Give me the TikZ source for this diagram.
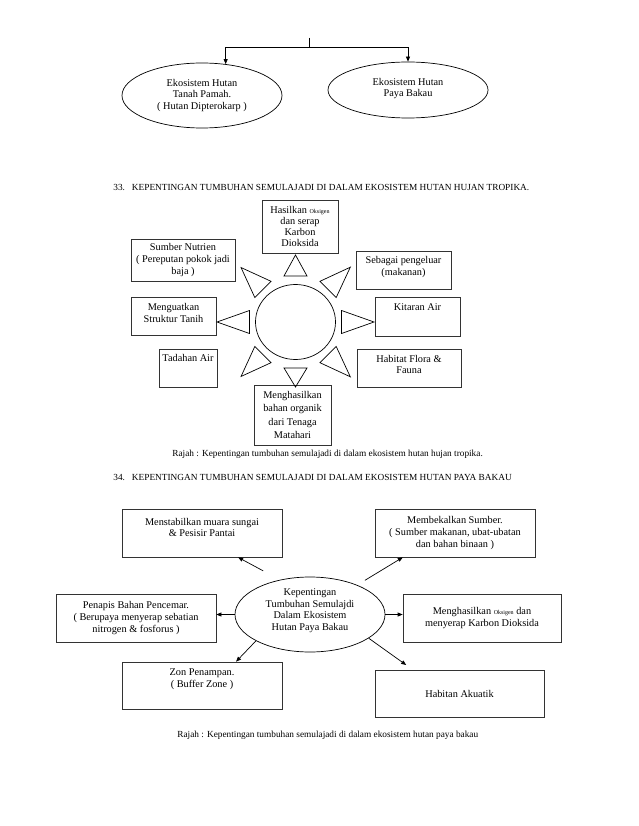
\documentclass[tikz,border=0pt]{standalone}
\usepackage{fontspec}
\setmainfont{Liberation Serif}
\usetikzlibrary{shapes.geometric,arrows.meta}

\newcommand{\kecil}[1]{{\fontsize{6}{7}\selectfont #1}}
\newcommand{\ruang}[1]{\rule[-#1]{0pt}{#1}}

\begin{document}
\begin{tikzpicture}[x=1pt,y=1pt,
            line width=0.7pt,
            every node/.style={font=\fontsize{10.3}{11.7}\selectfont, align=center, inner sep=2pt},
            kotak/.style n args={2}{draw=black!80, rectangle, minimum width=#1, minimum height=#2},
            bulat/.style={draw, ellipse, inner sep=0pt},
            tajuk/.style={anchor=west, inner sep=0pt, font=\fontsize{9.3}{11}\selectfont},
            panah/.style={-{Triangle[length=5pt,width=4pt]}},
            ]
            \useasboundingbox (0,0) rectangle (638,-826);

            % bahagian atas
            \coordinate (atas) at (309,-38);
            \node[bulat, minimum width=160pt, minimum height=65pt] (pamah) at (202,-95.5)
                {Ekosistem Hutan\\Tanah Pamah.\\( Hutan Dipterokarp )};
            \node[bulat, minimum width=160pt, minimum height=56pt] (bakau) at (408,-90)
                {Ekosistem Hutan\\Paya Bakau\ruang{5pt}};
            \draw[panah] (atas) -- ++(0,-9) -| (pamah.53.5);
            \draw[panah] (atas) -- ++(0,-9) -| (bakau.north);

            % 33
            \node[tajuk] (judul33) at (113,-187)
                {33.\hspace{7pt}KEPENTINGAN TUMBUHAN SEMULAJADI DI DALAM EKOSISTEM HUTAN HUJAN TROPIKA.};

            \node[bulat, minimum width=80pt, minimum height=75pt] (pusat) at (295.5,-322) {};
            \node[kotak={76pt}{53pt}, font=\fontsize{10.3}{11}\selectfont] (oksigen) at (300,-226.5)
                {Hasilkan \kecil{Oksigen}\\dan serap\\Karbon\\Dioksida};
            \node[kotak={104pt}{42pt}] (nutrien) at (183,-260) {Sumber Nutrien\\( Pereputan pokok jadi\\baja )};
            \node[kotak={85pt}{38pt}] (tanih) at (173.5,-316) {Menguatkan\\Struktur Tanih\ruang{6pt}};
            \node[kotak={95pt}{38pt}] (makanan) at (403.5,-270) {Sebagai pengeluar\\(makanan)\ruang{8pt}};
            \node[kotak={85pt}{39pt}] (kitaran) at (417.5,-316.5) {Kitaran Air\ruang{19pt}};
            \node[kotak={58pt}{38pt}] (tadahan) at (188,-368) {Tadahan Air\ruang{20pt}};
            \node[kotak={104pt}{38pt}] (habitat) at (409,-368) {Habitat Flora \&\\Fauna\ruang{7pt}};
            \node[kotak={77pt}{60pt}, font=\fontsize{10.3}{13.3}\selectfont] (organik) at (292.5,-415)
                {Menghasilkan\\bahan organik\\dari Tenaga\\Matahari};

            % sinar
            \foreach \sudut/\hujung in {0/78.5,45/77.5,90/67,135/77,180/78.5,225/77,270/65,315/77.5}
                \draw[shift={(pusat.center)},rotate=\sudut] (46,-11.5) -- (\hujung,0) -- (46,11.5) -- cycle;

            \node[tajuk] (rajah33) at (172,-454)
                {Rajah : Kepentingan tumbuhan semulajadi di dalam ekosistem hutan hujan tropika.};

            % 34
            \node[tajuk] (judul34) at (113,-477)
                {34.\hspace{7pt}KEPENTINGAN TUMBUHAN SEMULAJADI DI DALAM EKOSISTEM HUTAN PAYA BAKAU};

            \node[bulat, minimum width=150pt, minimum height=75pt] (kepentingan) at (310,-614.5)
                {Kepentingan\\Tumbuhan Semulajdi\\Dalam Ekosistem\\Hutan Paya Bakau\ruang{10pt}};
            \node[kotak={160pt}{48pt}] (muara) at (202,-533) {Menstabilkan muara sungai\\\& Pesisir Pantai\ruang{11pt}};
            \node[kotak={160pt}{48pt}] (sumber) at (455,-533)
                {Membekalkan Sumber.\\( Sumber makanan, ubat-ubatan\\dan bahan binaan )};
            \node[kotak={160pt}{48pt}] (penapis) at (136,-618)
                {Penapis Bahan Pencemar.\\( Berupaya menyerap sebatian\\nitrogen \& fosforus )};
            \node[kotak={158pt}{48pt}] (karbon) at (482,-618)
                {Menghasilkan \kecil{Oksigen} dan\\menyerap Karbon Dioksida};
            \node[kotak={160pt}{47pt}] (zon) at (202,-685.5) {Zon Penampan.\\( Buffer Zone )\ruang{15pt}};
            \node[kotak={169pt}{47pt}] (akuatik) at (459.5,-693.5) {Habitan Akuatik};

            \draw[panah, shorten <=19pt] (kepentingan.131) -- (muara.-34);
            \draw[panah, shorten <=9pt] (kepentingan.32) -- (sumber.205);
            \draw[panah] (kepentingan.west) -- (kepentingan.west -| penapis.east);
            \draw[panah] (kepentingan.east) -- (kepentingan.east -| karbon.west);
            \draw[panah] (kepentingan.206) -- (zon.35);
            \draw[panah, shorten >=8pt] (kepentingan.-22) -- (akuatik.153);

            \node[tajuk] (rajah34) at (177,-735)
                {Rajah : Kepentingan tumbuhan semulajadi di dalam ekosistem hutan paya bakau};
\end{tikzpicture}
\end{document}
